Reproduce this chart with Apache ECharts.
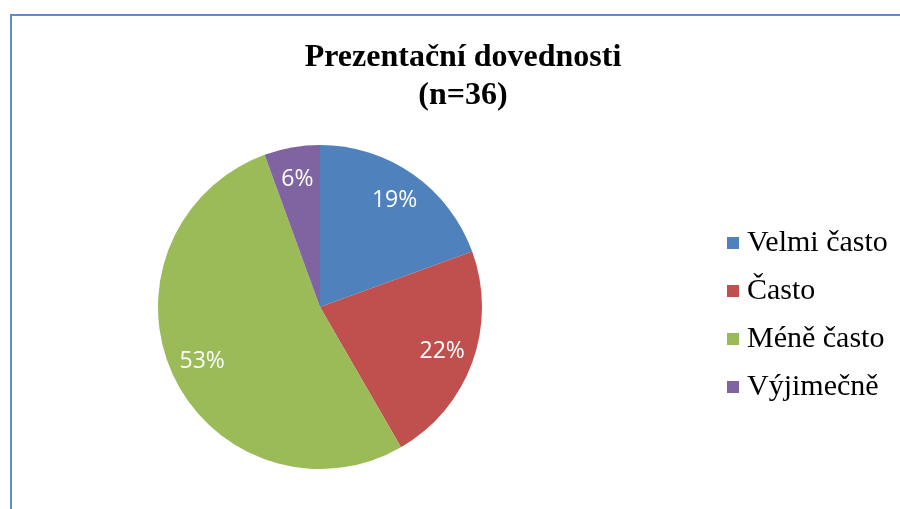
<!DOCTYPE html>
<html>
<head>
<meta charset="utf-8">
<script src="https://cdn.jsdelivr.net/npm/echarts@6/dist/echarts.min.js"></script>
<style>
  html, body { margin: 0; padding: 0; background: #fff; }
  #frame {
    position: absolute; left: 10px; top: 14px; width: 1000px; height: 600px;
    border-top: 2px solid #5f8ccb; border-left: 2px solid #5f8ccb;
  }
  #chart { position: absolute; left: 0; top: 0; width: 900px; height: 509px; }
</style>
</head>
<body>
<div id="frame"></div>
<div id="chart"></div>
<script>
const categories = ['Velmi často', 'Často', 'Méně často', 'Výjimečně'];
const counts = [7, 8, 19, 2];
const colors = ['#4F81BD', '#C0504D', '#9BBB59', '#8064A2'];

const pieData = categories.map((name, i) => ({
  name: name,
  value: counts[i],
  itemStyle: { color: colors[i] },
}));

const chart = echarts.init(document.getElementById('chart'));

chart.setOption({
  animation: false,
  title: {
    text: 'Prezentační dovednosti\n(n=36)',
    left: 458,
    top: 34,
    textAlign: 'center',
    textStyle: {
      fontFamily: 'Liberation Serif',
      fontWeight: 'bold',
      fontSize: 32,
      lineHeight: 38,
      color: '#000',
    },
  },
  legend: {
    orient: 'vertical',
    left: 727,
    top: 228,
    padding: 0,
    itemWidth: 12,
    itemHeight: 12,
    itemGap: 18,
    icon: 'rect',
    data: categories,
    textStyle: {
      fontFamily: 'Liberation Serif',
      fontSize: 30,
      lineHeight: 30,
      color: '#000',
      padding: [0, 0, 0, 3],
    },
  },
  series: [
    {
      name: 'slices',
      type: 'pie',
      center: [320, 307],
      radius: [0, 162],
      startAngle: 90,
      clockwise: true,
      label: { show: false },
      labelLine: { show: false },
      itemStyle: { borderWidth: 0 },
      emphasis: { disabled: true },
      data: pieData,
    },
    {
      name: 'labels',
      type: 'pie',
      center: [320, 307],
      radius: [92, 162],
      startAngle: 90,
      clockwise: true,
      silent: true,
      legendHoverLink: false,
      itemStyle: { color: 'rgba(0,0,0,0)', borderWidth: 0 },
      label: {
        show: true,
        position: 'inside',
        formatter: (p) => Math.round(p.percent) + '%',
        color: '#fff',
        fontFamily: 'Open Sans',
        fontSize: 23,
      },
      labelLine: { show: false },
      emphasis: { disabled: true },
      data: categories.map((name, i) => ({ name: name, value: counts[i] })),
    },
  ],
});
</script>
</body>
</html>
